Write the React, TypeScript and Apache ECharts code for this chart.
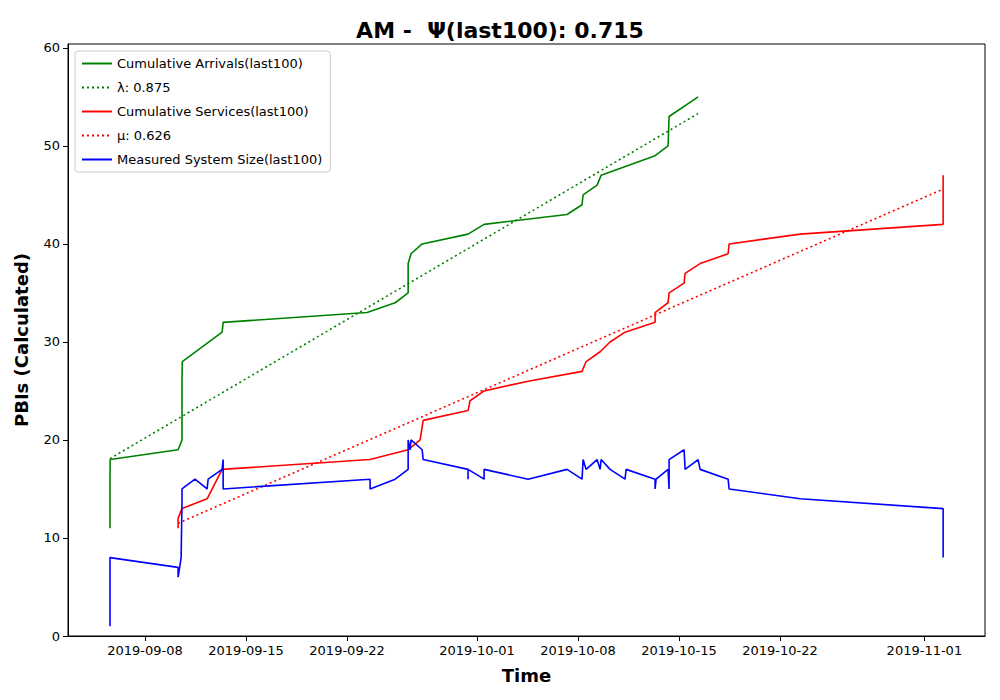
import React, { useEffect, useRef } from "react";
import * as echarts from "echarts";

// x values: days since 2019-09-08 00:00
const arrivals: [number, number][] = [
  [-2.43, 11], [-2.43, 15], [-2.42, 18], [2.29, 19], [2.56, 20], [2.56, 26], [2.58, 28], [5.34, 31], [5.41, 32],
  [15.38, 33], [17.33, 34], [18.23, 35], [18.23, 38], [18.43, 39], [19.2, 40], [22.38, 41], [23.49, 42],
  [29.24, 43], [30.28, 44], [30.35, 45], [31.32, 46], [31.6, 47], [35.34, 49], [36.24, 50], [36.31, 53], [38.32, 55],
];
const services: [number, number][] = [
  [2.29, 11], [2.29, 12], [2.56, 13], [4.3, 14], [5.34, 17], [15.59, 18], [18.23, 19], [19.06, 20], [19.27, 22],
  [22.38, 23], [22.52, 24], [23.49, 25], [26.54, 26], [30.28, 27], [30.56, 28], [31.53, 29], [32.22, 30],
  [33.26, 31], [35.34, 32], [35.34, 33], [36.24, 34], [36.31, 35], [37.35, 36], [37.42, 37], [38.46, 38],
  [40.4, 39], [40.47, 40], [45.39, 41], [55.3, 42], [55.3, 47],
];
const systemSize: [number, number][] = [
  [-2.43, 1], [-2.43, 8], [2.29, 7], [2.29, 6], [2.5, 8], [2.56, 14], [2.56, 15], [3.46, 16], [4.3, 15], [4.37, 16],
  [5.34, 17], [5.41, 18], [5.41, 15], [15.59, 16], [15.59, 15], [17.33, 16], [18.23, 17], [18.23, 20], [18.37, 19],
  [18.43, 20], [19.2, 19], [19.27, 18], [22.38, 17], [22.38, 16], [22.38, 17], [23.49, 16], [23.49, 17],
  [26.54, 16], [29.24, 17], [30.28, 16], [30.35, 18], [30.56, 17], [31.32, 18], [31.53, 17], [31.6, 18],
  [32.22, 17], [33.26, 16], [33.33, 17], [35.34, 16], [35.34, 15], [35.41, 16], [36.24, 17], [36.31, 15],
  [36.31, 18], [37.35, 19], [37.42, 17], [38.32, 18], [38.46, 17], [40.4, 16], [40.47, 15], [45.39, 14],
  [55.3, 13], [55.3, 8],
];
const lambdaFit: [number, number][] = [[-2.43, 18.1], [38.32, 53.3]];
const muFit: [number, number][] = [[2.29, 11.5], [55.3, 45.6]];
const tickOffsets = [0, 7, 14, 23, 30, 37, 44, 54];
const yTicks = [0, 10, 20, 30, 40, 50, 60];

const BASE = Date.UTC(2019, 8, 8);
const fmt = (d: number) => new Date(BASE + Math.round(d) * 86400000).toISOString().slice(0, 10);

export default function App() {
  const ref = useRef<HTMLDivElement>(null);
  useEffect(() => {
    const chart = echarts.init(ref.current!, undefined, { renderer: "svg" });
    const font = "DejaVu Sans";
    const line = (name: string, data: any, color: string, dotted = false) => ({
      name, type: "line", data, symbol: "none", lineStyle: { color, width: 1.6, type: dotted ? [2, 3] : "solid" },
      itemStyle: { color },
    });
    chart.setOption({
      animation: false,
      textStyle: { fontFamily: font },
      title: {
        text: "AM -  Ψ(last100): 0.715", left: "center", top: 14,
        textStyle: { fontSize: 22, fontWeight: "bold", color: "#000", fontFamily: font },
      },
      grid: { left: 68, right: 15, top: 44, bottom: 64, show: true, borderColor: "#000", borderWidth: 1 },
      legend: {
        left: 75, top: 51, orient: "vertical", itemWidth: 30, itemHeight: 10, itemGap: 11,
        borderColor: "#ccc", borderWidth: 1, borderRadius: 3, padding: [6, 8, 6, 6], backgroundColor: "#fff",
        itemStyle: { opacity: 0 },
        textStyle: { fontSize: 13, color: "#000" },
        data: [
          "Cumulative Arrivals(last100)", "λ: 0.875", "Cumulative Services(last100)", "μ: 0.626", "Measured System Size(last100)",
        ],
      },
      xAxis: {
        type: "value", min: -5.34, max: 58.2, name: "Time", nameLocation: "middle", nameGap: 30,
        nameTextStyle: { fontSize: 18, fontWeight: "bold", color: "#000" },
        splitLine: { show: false },
        axisLine: { show: true, onZero: false, lineStyle: { color: "#000" } },
        axisTick: { show: true, customValues: tickOffsets, lineStyle: { color: "#000" } },
        axisLabel: { customValues: tickOffsets, formatter: (v: number) => fmt(v), color: "#000", fontSize: 13 },
      },
      yAxis: {
        type: "value", min: 0, max: 60.4, name: "PBIs (Calculated)", nameLocation: "middle", nameGap: 38,
        nameTextStyle: { fontSize: 18, fontWeight: "bold", color: "#000" },
        splitLine: { show: false },
        axisLine: { show: true, onZero: false, lineStyle: { color: "#000" } },
        axisTick: { show: true, customValues: yTicks, lineStyle: { color: "#000" } },
        axisLabel: { customValues: yTicks, color: "#000", fontSize: 13 },
      },
      series: [
        line("Cumulative Arrivals(last100)", arrivals, "#008000"),
        line("λ: 0.875", lambdaFit, "#008000", true),
        line("Cumulative Services(last100)", services, "#ff0000"),
        line("μ: 0.626", muFit, "#ff0000", true),
        line("Measured System Size(last100)", systemSize, "#0000ff"),
      ],
    });
    return () => chart.dispose();
  }, []);
  return (
    <div style={{ position: "fixed", left: 0, top: 0, width: 1000, height: 700, background: "#fff" }}>
      <div ref={ref} style={{ width: 1000, height: 700 }} />
    </div>
  );
}
